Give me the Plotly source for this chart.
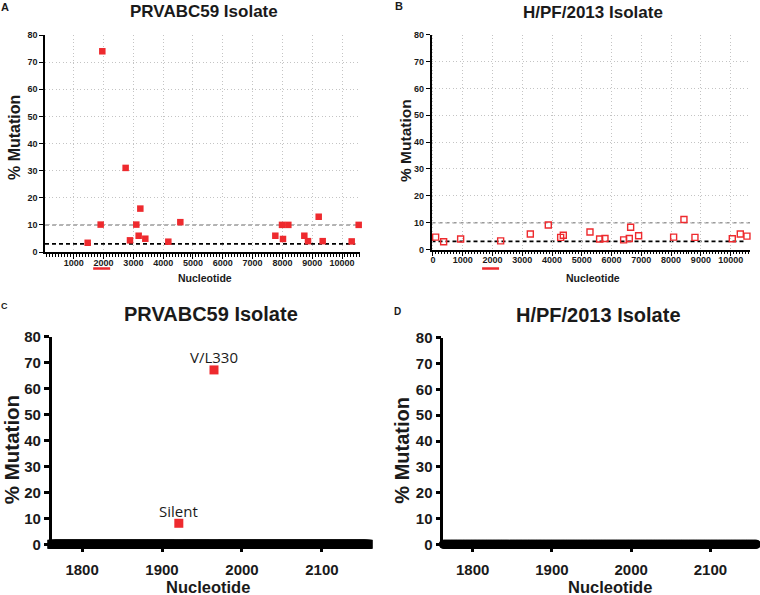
import plotly.graph_objects as go

W, H = 760, 595
RED = "#EE2A2E"
INK = "#1a1a1a"
FONT = "Liberation Sans"

# ---------------- data ----------------
# Panel A: PRVABC59 isolate, whole genome
a_nt = [1466, 1902, 1957, 2740, 2886, 3097, 3177, 3233, 3400, 4172, 4575,
        7763, 7987, 8020, 8199, 8736, 8859, 9218, 9352, 10325, 10560]
a_pct = [3.4, 10.1, 74, 31, 4.3, 10.1, 6, 16, 4.9, 3.8, 11,
         6, 10, 4.8, 10, 6, 4, 13, 4, 3.9, 10]

# Panel B: H/PF/2013 isolate, whole genome
b_nt = [89, 358, 929, 2273, 3270, 3874, 4289, 4378, 5274, 5598, 5778,
        6405, 6595, 6640, 6908, 8084, 8431, 8801, 10055, 10324, 10548]
b_pct = [4.6, 2.9, 3.9, 3.2, 5.8, 9.1, 4.5, 5.3, 6.5, 3.9, 4.1,
         3.6, 4.1, 8.3, 5.1, 4.6, 11.2, 4.5, 4.0, 5.8, 5.0]

# Panel C: PRVABC59 isolate, window 1762-2158
c_nt = [1921, 1965]
c_pct = [8.1, 67.2]
c_labels = ["Silent", "V/L330"]

# every nucleotide of the window without mutation (0 %)
window_start, window_end = 1762, 2158
window_nt = list(range(window_start, window_end + 1))
c_zero_nt = [n for n in window_nt if n not in c_nt]
c_zero_pct = [0] * len(c_zero_nt)
d_zero_nt = window_nt
d_zero_pct = [0] * len(d_zero_nt)

threshold_hi = 10
threshold_lo = 3
highlight_region = [1650, 2220]

genome_ticks = [1000, 2000, 3000, 4000, 5000, 6000, 7000, 8000, 9000, 10000]
genome_ticks_b = [0] + genome_ticks
window_ticks = [1800, 1900, 2000, 2100]
pct_ticks = [0, 10, 20, 30, 40, 50, 60, 70, 80]


def px(x):
    return x / W


def py(y):
    return 1 - y / H


fig = go.Figure()

fig.add_trace(go.Scatter(x=a_nt, y=a_pct, mode="markers", xaxis="x", yaxis="y",
                         marker=dict(symbol="square", size=6.5, color=RED, line=dict(width=0)),
                         cliponaxis=False))
fig.add_trace(go.Scatter(x=b_nt, y=b_pct, mode="markers", xaxis="x2", yaxis="y2",
                         marker=dict(symbol="square-open", size=6, color=RED, line=dict(width=1.4, color=RED)),
                         cliponaxis=False))
fig.add_trace(go.Scatter(x=c_zero_nt, y=c_zero_pct, mode="markers", xaxis="x3", yaxis="y3",
                         marker=dict(symbol="square", size=9, color="black", line=dict(width=0)),
                         cliponaxis=False))
fig.add_trace(go.Scatter(x=c_nt, y=c_pct, mode="markers", xaxis="x3", yaxis="y3",
                         marker=dict(symbol="square", size=9, color=RED, line=dict(width=0)),
                         cliponaxis=False))
fig.add_trace(go.Scatter(x=d_zero_nt, y=d_zero_pct, mode="markers", xaxis="x4", yaxis="y4",
                         marker=dict(symbol="circle", size=9, color="black", line=dict(width=0)),
                         cliponaxis=False))

small_tick = dict(family=FONT, size=9, color=INK, weight="bold")
big_tick = dict(family=FONT, size=15, color=INK, weight="bold")

genome_x = dict(showline=True, linecolor="black", linewidth=1.5, ticks="outside", ticklen=5,
                tickwidth=1.3, tickcolor="black", tickfont=small_tick, showgrid=True,
                gridcolor="#c4c4c4", griddash="1px,2.5px", gridwidth=1, zeroline=False,
                tickformat="d",
                minor=dict(dtick=100, tick0=0, ticks="outside", ticklen=3, tickwidth=1,
                           tickcolor="black", showgrid=False),
                ticklabelstandoff=-4)
genome_y = dict(showline=True, linecolor="black", linewidth=1.5, ticks="outside", ticklen=4,
                tickwidth=1.3, tickcolor="black", tickfont=small_tick, showgrid=True,
                gridcolor="#c4c4c4", griddash="1px,2.5px", gridwidth=1, zeroline=False,
                range=[0, 80], tickvals=pct_ticks)
window_x = dict(showline=True, linecolor="black", linewidth=2.5, ticks="outside", ticklen=5,
                tickwidth=2.5, tickcolor="black", tickfont=big_tick, showgrid=False,
                zeroline=False, tickvals=window_ticks, ticklabelstandoff=5)
window_y = dict(showline=True, linecolor="black", linewidth=2.5, ticks="outside", ticklen=5,
                tickwidth=2.5, tickcolor="black", tickfont=big_tick, showgrid=False,
                zeroline=False, range=[0, 80], tickvals=pct_ticks)

fig.update_layout(
    width=W, height=H, margin=dict(l=0, r=0, t=0, b=0, autoexpand=False),
    paper_bgcolor="white", plot_bgcolor="white", showlegend=False,
    xaxis=dict(genome_x, domain=[px(45), px(360)], range=[34, 10604], tickvals=genome_ticks, anchor="y"),
    yaxis=dict(genome_y, domain=[py(252), py(35)], anchor="x"),
    xaxis2=dict(genome_x, domain=[px(431.5), px(750)], range=[-50, 10650], tickvals=genome_ticks_b, anchor="y2"),
    yaxis2=dict(genome_y, domain=[py(249.5), py(34.7)], anchor="x2"),
    xaxis3=dict(window_x, domain=[px(51.7), px(368.3)], range=[1762, 2158], anchor="y3"),
    yaxis3=dict(window_y, domain=[py(544.3), py(336.7)], anchor="x3"),
    xaxis4=dict(window_x, domain=[px(443.3), px(758)], range=[1763, 2160], anchor="y4"),
    yaxis4=dict(window_y, domain=[py(544.3), py(337.7)], anchor="x4"),
)

shapes = []
for xr, yr in (("x", "y"), ("x2", "y2")):
    shapes.append(dict(type="line", xref=f"{xr} domain", x0=0, x1=1, yref=yr,
                       y0=threshold_hi, y1=threshold_hi, layer="below",
                       line=dict(color="#9a9a9a", width=1.5, dash="4px,3px")))
    shapes.append(dict(type="line", xref=f"{xr} domain", x0=0, x1=0.985, yref=yr,
                       y0=threshold_lo, y1=threshold_lo, layer="below",
                       line=dict(color="black", width=1.7, dash="4px,3px")))
    shapes.append(dict(type="line", xref=xr, x0=highlight_region[0], x1=highlight_region[1],
                       yref="paper", y0=py(268.5), y1=py(268.5),
                       line=dict(color=RED, width=2.5)))
fig.update_layout(shapes=shapes)

ann = []


def text(x, y, s, size, bold=True, angle=0, family=FONT):
    ann.append(dict(x=px(x), y=py(y), xref="paper", yref="paper", text=s, showarrow=False,
                    xanchor="center", yanchor="middle", textangle=angle,
                    font=dict(family=family, size=size, color=INK,
                              weight="bold" if bold else "normal")))


# panel letters
text(5, 7, "A", 11)
text(399, 6, "B", 11)
text(4, 306.5, "C", 9)
text(397, 311, "D", 10)
# titles
text(204.5, 11.5, "PRVABC59 Isolate", 17)
text(593, 12.5, "H/PF/2013 Isolate", 17)
text(210.8, 313.8, "PRVABC59 Isolate", 20)
text(598, 314.7, "H/PF/2013 Isolate", 20)
# axis titles
text(14, 138, "% Mutation", 16, angle=-90)
text(405, 141, "% Mutation", 15.5, angle=-90)
text(11.7, 449.5, "% Mutation", 20.5, angle=-90)
text(401.7, 450, "% Mutation", 20, angle=-90)
text(205, 278, "Nucleotide", 10.5)
text(592.6, 278, "Nucleotide", 10.5)
text(207.5, 586.5, "Nucleotide", 16.5)
text(609.5, 586.5, "Nucleotide", 16.5)
fig.update_layout(annotations=ann)

for n, p, lab in zip(c_nt, c_pct, c_labels):
    fig.add_annotation(x=n, y=p, xref="x3", yref="y3", text=lab, showarrow=False,
                       yshift=12.5, yanchor="middle", xanchor="center",
                       font=dict(family="Open Sans", size=15, color=INK))

fig.write_html("out.html", config={"displayModeBar": False},
               post_script="document.body.style.margin='0';document.body.style.overflow='hidden';")
